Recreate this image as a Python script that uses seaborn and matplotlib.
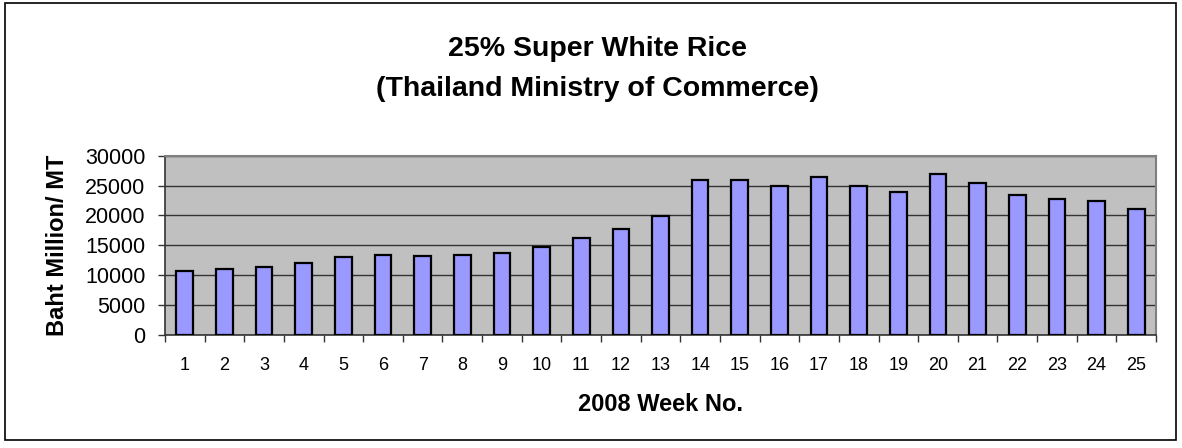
import pandas as pd
import seaborn as sns
import matplotlib.pyplot as plt
from matplotlib.patches import Rectangle

weeks = list(range(1, 26))
price = [10700, 11100, 11400, 12000, 13000, 13400, 13200, 13400, 13700, 14800,
         16300, 17800, 19900, 25900, 25900, 24900, 26400, 24900, 23900, 26900,
         25400, 23400, 22800, 22500, 21000]
y_ticks = [0, 5000, 10000, 15000, 20000, 25000, 30000]

df = pd.DataFrame({"week": weeks, "price": price})

sns.set_theme(style="white")
plt.rcParams["font.family"] = ["Liberation Sans", "DejaVu Sans"]
plt.rcParams["text.color"] = "black"
plt.rcParams["axes.labelcolor"] = "black"
plt.rcParams["xtick.color"] = "black"
plt.rcParams["ytick.color"] = "black"

fig = plt.figure(figsize=(11.82, 4.48), dpi=100)
ax = fig.add_axes([165 / 1182, 113 / 448, 991 / 1182, 179.3 / 448])
ax.set_facecolor("#C0C0C0")

sns.barplot(data=df, x="week", y="price", color="#9999FF", saturation=1,
            width=0.42, edgecolor="black", linewidth=1.6, ax=ax, zorder=3)

ax.set_ylim(0, 30000)
ax.set_yticks(y_ticks)
ax.set_yticklabels([str(v) for v in y_ticks], fontsize=15.5)
ax.set_xlim(-0.5, len(weeks) - 0.5)
ax.set_xticklabels([str(w) for w in weeks], fontsize=13)

ax.yaxis.grid(True, color="#333333", linewidth=1.0, zorder=0)
ax.set_axisbelow(True)

ax.tick_params(axis="y", left=True, length=5, width=1, color="#333333", pad=9)
ax.tick_params(axis="x", which="major", bottom=False, length=0, pad=16)
ax.set_xticks([i - 0.5 for i in range(len(weeks) + 1)], minor=True)
ax.tick_params(axis="x", which="minor", bottom=True, length=5, width=1, color="#333333")

for side in ["top", "right"]:
    ax.spines[side].set_color("#808080")
    ax.spines[side].set_linewidth(1.5)
for side in ["left", "bottom"]:
    ax.spines[side].set_color("#333333")
    ax.spines[side].set_linewidth(1.2)

ax.set_xlabel("2008 Week No.", fontsize=17, fontweight="bold")
ax.set_ylabel("Baht Million/ MT", fontsize=17, fontweight="bold")
ax.xaxis.set_label_coords(0.5, -0.322)
ax.yaxis.set_label_coords(-0.097, 0.5)

# two-line title, centred a little right of the figure middle like the original
fig.text(597 / 1182, 1 - 49 / 448, "25% Super White Rice", ha="center", va="center",
         fontsize=20.5, fontweight="bold")
fig.text(597 / 1182, 1 - 89 / 448, "(Thailand Ministry of Commerce)", ha="center", va="center",
         fontsize=20.5, fontweight="bold")

fig.patches.append(Rectangle((5 / 1182, 8 / 448), 1171 / 1182, 437 / 448,
                             transform=fig.transFigure, fill=False,
                             edgecolor="black", linewidth=1.2))

fig.savefig("out.png", dpi=100)
